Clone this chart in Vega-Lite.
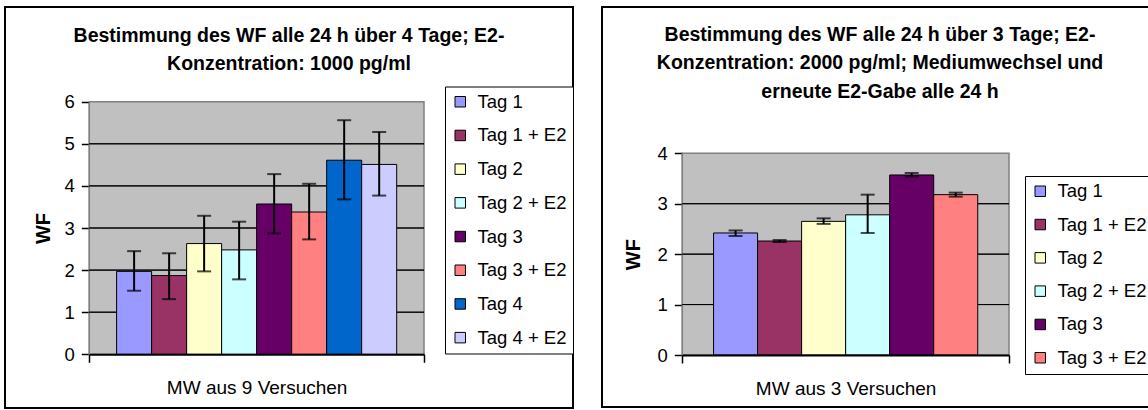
{
  "$schema": "https://vega.github.io/schema/vega-lite/v6.json",
  "autosize": {"type": "none"},
  "padding": {"left": 5, "top": 7, "right": 1143, "bottom": 403},
  "background": "white",
  "spacing": 26,
  "datasets": {
    "links": [
      {"Gruppe": "MW aus 9 Versuchen", "Serie": "Tag 1", "WF": 1.97, "lo": 1.51, "hi": 2.45},
      {"Gruppe": "MW aus 9 Versuchen", "Serie": "Tag 1 + E2", "WF": 1.87, "lo": 1.31, "hi": 2.40},
      {"Gruppe": "MW aus 9 Versuchen", "Serie": "Tag 2", "WF": 2.63, "lo": 1.97, "hi": 3.29},
      {"Gruppe": "MW aus 9 Versuchen", "Serie": "Tag 2 + E2", "WF": 2.48, "lo": 1.78, "hi": 3.15},
      {"Gruppe": "MW aus 9 Versuchen", "Serie": "Tag 3", "WF": 3.57, "lo": 2.87, "hi": 4.28},
      {"Gruppe": "MW aus 9 Versuchen", "Serie": "Tag 3 + E2", "WF": 3.38, "lo": 2.73, "hi": 4.05},
      {"Gruppe": "MW aus 9 Versuchen", "Serie": "Tag 4", "WF": 4.61, "lo": 3.68, "hi": 5.56},
      {"Gruppe": "MW aus 9 Versuchen", "Serie": "Tag 4 + E2", "WF": 4.51, "lo": 3.77, "hi": 5.28}
    ],
    "rechts": [
      {"Gruppe": "MW aus 3 Versuchen", "Serie": "Tag 1", "WF": 2.42, "lo": 2.36, "hi": 2.47},
      {"Gruppe": "MW aus 3 Versuchen", "Serie": "Tag 1 + E2", "WF": 2.26, "lo": 2.24, "hi": 2.28},
      {"Gruppe": "MW aus 3 Versuchen", "Serie": "Tag 2", "WF": 2.65, "lo": 2.60, "hi": 2.71},
      {"Gruppe": "MW aus 3 Versuchen", "Serie": "Tag 2 + E2", "WF": 2.78, "lo": 2.42, "hi": 3.18},
      {"Gruppe": "MW aus 3 Versuchen", "Serie": "Tag 3", "WF": 3.57, "lo": 3.54, "hi": 3.61},
      {"Gruppe": "MW aus 3 Versuchen", "Serie": "Tag 3 + E2", "WF": 3.18, "lo": 3.14, "hi": 3.22}
    ],
    "gitterLinks": [{"g": 1}, {"g": 2}, {"g": 3}, {"g": 4}, {"g": 5}],
    "gitterRechts": [{"g": 1}, {"g": 2}, {"g": 3}]
  },
  "hconcat": [
    {
      "width": 568,
      "height": 401,
      "view": {"stroke": "black", "strokeWidth": 2, "fill": "white"},
      "title": {
        "text": ["Bestimmung des WF alle 24 h über 4 Tage; E2-", "Konzentration: 1000 pg/ml"],
        "anchor": "middle", "frame": "group", "offset": -67,
        "fontSize": 19.5, "fontWeight": "bold", "lineHeight": 28, "color": "black", "font": "Liberation Sans"
      },
      "layer": [
        {
          "data": {"values": [{}]},
          "mark": {"type": "rect", "fill": "#C0C0C0", "stroke": "#808080", "strokeWidth": 1.5},
          "encoding": {
            "x": {"datum": "MW aus 9 Versuchen", "type": "nominal"},
            "y": {"datum": 0, "type": "quantitative"},
            "y2": {"datum": 6}
          }
        },
        {
          "data": {"name": "gitterLinks"},
          "mark": {"type": "rect", "fill": null, "stroke": "black", "strokeWidth": 1},
          "encoding": {
            "x": {"datum": "MW aus 9 Versuchen", "type": "nominal"},
            "y": {"field": "g", "type": "quantitative"},
            "y2": {"field": "g"}
          }
        },
        {
          "data": {"name": "links"},
          "mark": {"type": "bar", "stroke": "black", "strokeWidth": 1},
          "encoding": {
            "x": {
              "field": "Gruppe", "type": "nominal", "title": null,
              "scale": {"type": "band", "range": [84.3, 419], "paddingInner": 0, "paddingOuter": 0},
              "axis": {"orient": "bottom", "offset": -53.7, "tickBand": "extent", "labelAngle": 0,
                       "labelAlign": "center", "labelFlush": false, "labelBound": false,
                       "domainColor": "black", "domainWidth": 2, "tickColor": "black", "tickSize": 8, "tickWidth": 1.5,
                       "labelFontSize": 19, "labelColor": "black", "labelPadding": 25, "labelLimit": 0}
            },
            "xOffset": {"field": "Serie", "type": "nominal", "sort": null,
                        "scale": {"paddingInner": 0, "paddingOuter": 0.78}},
            "y": {
              "field": "WF", "type": "quantitative", "title": "WF",
              "scale": {"domain": [0, 6], "range": [347.3, 94.7], "nice": false},
              "axis": {"orient": "left", "offset": -84.3, "values": [0, 1, 2, 3, 4, 5, 6], "format": "d", "grid": false,
                       "domainColor": "black", "domainWidth": 2, "tickColor": "black", "tickSize": 8, "tickWidth": 1.5,
                       "labelFontSize": 18.5, "labelColor": "black", "labelPadding": 7,
                       "titleFontSize": 20, "titleFontWeight": "bold", "titleColor": "black", "titlePadding": 11}
            },
            "color": {
              "field": "Serie", "type": "nominal",
              "scale": {
                "domain": ["Tag 1", "Tag 1 + E2", "Tag 2", "Tag 2 + E2", "Tag 3", "Tag 3 + E2", "Tag 4", "Tag 4 + E2"],
                "range": ["#9999FF", "#993366", "#FFFFCC", "#CCFFFF", "#660066", "#FF8080", "#0066CC", "#CCCCFF"]
              },
              "legend": {"orient": "none", "legendX": 440, "legendY": 79.5, "title": null,
                         "strokeColor": "black", "fillColor": "white", "padding": 6,
                         "symbolType": "square", "symbolSize": 110, "symbolStrokeColor": "black", "symbolStrokeWidth": 1,
                         "labelFontSize": 18.5, "labelColor": "black", "labelOffset": 8, "rowPadding": 14.7}
            }
          }
        },
        {
          "data": {"name": "links"},
          "mark": {"type": "rule", "color": "black", "strokeWidth": 2},
          "encoding": {
            "x": {"field": "Gruppe", "type": "nominal"},
            "xOffset": {"field": "Serie", "type": "nominal", "sort": null},
            "y": {"field": "lo", "type": "quantitative"},
            "y2": {"field": "hi"}
          }
        },
        {
          "data": {"name": "links"},
          "mark": {"type": "tick", "color": "black", "thickness": 2, "size": 14, "orient": "horizontal"},
          "encoding": {
            "x": {"field": "Gruppe", "type": "nominal"},
            "xOffset": {"field": "Serie", "type": "nominal", "sort": null},
            "y": {"field": "lo", "type": "quantitative"}
          }
        },
        {
          "data": {"name": "links"},
          "mark": {"type": "tick", "color": "black", "thickness": 2, "size": 14, "orient": "horizontal"},
          "encoding": {
            "x": {"field": "Gruppe", "type": "nominal"},
            "xOffset": {"field": "Serie", "type": "nominal", "sort": null},
            "y": {"field": "hi", "type": "quantitative"}
          }
        }
      ]
    },
    {
      "width": 556,
      "height": 400,
      "view": {"stroke": "black", "strokeWidth": 2, "fill": "white"},
      "title": {
        "text": ["Bestimmung des WF alle 24 h über 3 Tage; E2-", "Konzentration: 2000 pg/ml; Mediumwechsel und", "erneute E2-Gabe alle 24 h"],
        "anchor": "middle", "frame": "group", "offset": -95,
        "fontSize": 19.5, "fontWeight": "bold", "lineHeight": 28.5, "color": "black", "font": "Liberation Sans"
      },
      "layer": [
        {
          "data": {"values": [{}]},
          "mark": {"type": "rect", "fill": "#C0C0C0", "stroke": "#808080", "strokeWidth": 1.5},
          "encoding": {
            "x": {"datum": "MW aus 3 Versuchen", "type": "nominal"},
            "y": {"datum": 0, "type": "quantitative"},
            "y2": {"datum": 4}
          }
        },
        {
          "data": {"name": "gitterRechts"},
          "mark": {"type": "rect", "fill": null, "stroke": "black", "strokeWidth": 1},
          "encoding": {
            "x": {"datum": "MW aus 3 Versuchen", "type": "nominal"},
            "y": {"field": "g", "type": "quantitative"},
            "y2": {"field": "g"}
          }
        },
        {
          "data": {"name": "rechts"},
          "mark": {"type": "bar", "stroke": "black", "strokeWidth": 1},
          "encoding": {
            "x": {
              "field": "Gruppe", "type": "nominal", "title": null,
              "scale": {"type": "band", "range": [80.3, 407], "paddingInner": 0, "paddingOuter": 0},
              "axis": {"orient": "bottom", "offset": -52, "tickBand": "extent", "labelAngle": 0,
                       "labelAlign": "center", "labelFlush": false, "labelBound": false,
                       "domainColor": "black", "domainWidth": 2, "tickColor": "black", "tickSize": 8, "tickWidth": 1.5,
                       "labelFontSize": 19, "labelColor": "black", "labelPadding": 25, "labelLimit": 0}
            },
            "xOffset": {"field": "Serie", "type": "nominal", "sort": null,
                        "scale": {"paddingInner": 0, "paddingOuter": 0.71}},
            "y": {
              "field": "WF", "type": "quantitative", "title": "WF",
              "scale": {"domain": [0, 4], "range": [348, 146.3], "nice": false},
              "axis": {"orient": "left", "offset": -80.3, "values": [0, 1, 2, 3, 4], "format": "d", "grid": false,
                       "domainColor": "black", "domainWidth": 2, "tickColor": "black", "tickSize": 8, "tickWidth": 1.5,
                       "labelFontSize": 18.5, "labelColor": "black", "labelPadding": 7,
                       "titleFontSize": 20, "titleFontWeight": "bold", "titleColor": "black", "titlePadding": 14}
            },
            "color": {
              "field": "Serie", "type": "nominal",
              "scale": {
                "domain": ["Tag 1", "Tag 1 + E2", "Tag 2", "Tag 2 + E2", "Tag 3", "Tag 3 + E2"],
                "range": ["#9999FF", "#993366", "#FFFFCC", "#CCFFFF", "#660066", "#FF8080"]
              },
              "legend": {"orient": "none", "legendX": 423, "legendY": 169, "title": null,
                         "strokeColor": "black", "fillColor": "white", "padding": 6,
                         "symbolType": "square", "symbolSize": 110, "symbolStrokeColor": "black", "symbolStrokeWidth": 1,
                         "labelFontSize": 18.5, "labelColor": "black", "labelOffset": 8, "rowPadding": 14.3}
            }
          }
        },
        {
          "data": {"name": "rechts"},
          "mark": {"type": "rule", "color": "black", "strokeWidth": 2},
          "encoding": {
            "x": {"field": "Gruppe", "type": "nominal"},
            "xOffset": {"field": "Serie", "type": "nominal", "sort": null},
            "y": {"field": "lo", "type": "quantitative"},
            "y2": {"field": "hi"}
          }
        },
        {
          "data": {"name": "rechts"},
          "mark": {"type": "tick", "color": "black", "thickness": 2, "size": 14, "orient": "horizontal"},
          "encoding": {
            "x": {"field": "Gruppe", "type": "nominal"},
            "xOffset": {"field": "Serie", "type": "nominal", "sort": null},
            "y": {"field": "lo", "type": "quantitative"}
          }
        },
        {
          "data": {"name": "rechts"},
          "mark": {"type": "tick", "color": "black", "thickness": 2, "size": 14, "orient": "horizontal"},
          "encoding": {
            "x": {"field": "Gruppe", "type": "nominal"},
            "xOffset": {"field": "Serie", "type": "nominal", "sort": null},
            "y": {"field": "hi", "type": "quantitative"}
          }
        }
      ]
    }
  ],
  "resolve": {
    "scale": {"x": "independent", "y": "independent", "xOffset": "independent", "color": "independent"},
    "legend": {"color": "independent"},
    "axis": {"x": "independent", "y": "independent"}
  },
  "config": {
    "font": "Liberation Sans",
    "axis": {"labelFont": "Liberation Sans", "titleFont": "Liberation Sans"},
    "legend": {"labelFont": "Liberation Sans"}
  }
}
